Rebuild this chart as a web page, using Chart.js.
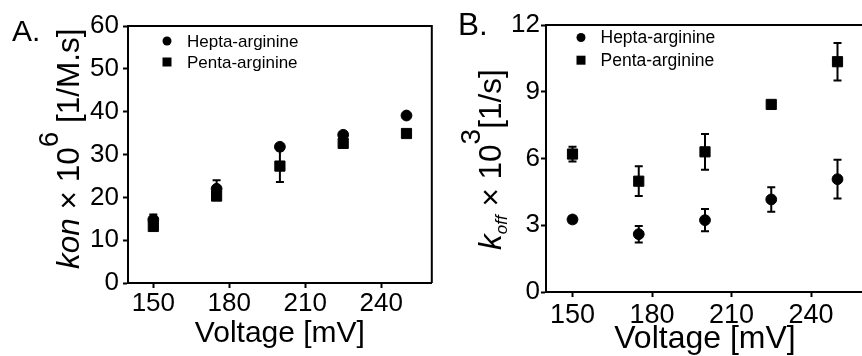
<!DOCTYPE html>
<html>
<head>
<meta charset="utf-8">
<script src="https://cdn.jsdelivr.net/npm/chart.js@4/dist/chart.umd.min.js"></script>
<style>
  html, body { margin:0; padding:0; background:#fff; overflow:hidden; }
  #wrap { position:relative; width:862px; height:356px; overflow:hidden; background:#fff; }
  canvas { position:absolute; top:0; }
  .lbl { position:absolute; font-family:"Liberation Sans", Arial, sans-serif; color:#000; white-space:nowrap; }
  .ytitle { position:absolute; font-family:"Liberation Sans", Arial, sans-serif; color:#000; white-space:nowrap;
            transform-origin:0 0; transform:rotate(-90deg); }
</style>
</head>
<body>
<div id="wrap">
  <canvas id="cA" width="440" height="356" style="left:0px;width:440px;height:356px"></canvas>
  <canvas id="cB" width="440" height="356" style="left:436px;width:440px;height:356px"></canvas>
  <div class="lbl" style="left:12px;top:16px;font-size:30px;line-height:30px">A.</div>
  <div class="lbl" style="left:458px;top:9px;font-size:31.5px;line-height:31.5px">B.</div>
  <div class="ytitle" style="left:53px;top:269px;font-size:31.5px;line-height:31.5px"><i>kon</i> × 10<span style="position:relative;top:-21px;font-size:28px">6</span> [1/M.s]</div>
  <div class="ytitle" style="left:475px;top:250px;font-size:31.5px;line-height:31.5px"><i>k</i><span style="position:relative;top:6px;font-size:17px;font-style:italic">off</span> × 10<span style="position:relative;top:-21px;font-size:28px">3</span>[1/s]</div>
</div>
<script>
// ---- data ----
const voltages = [150, 175, 200, 225, 250];
const xTicks = [150, 180, 210, 240];
const seriesNames = ['Hepta-arginine', 'Penta-arginine'];

const konHepta    = [14.8, 22.0, 31.8, 34.6, 39.1];
const konHeptaErr = [1.2, 2.0, 0.5, 0.5, 0.4];
const konPenta    = [13.2, 20.3, 27.3, 32.6, 34.9];
const konPentaErr = [0.8, 0.7, 3.7, 0.6, 0.4];
const konTicks    = [0, 10, 20, 30, 40, 50, 60];

const koffHepta    = [3.26, 2.6, 3.23, 4.16, 5.07];
const koffHeptaErr = [0.15, 0.37, 0.5, 0.55, 0.87];
const koffPenta    = [6.2, 4.98, 6.3, 8.43, 10.35];
const koffPentaErr = [0.33, 0.67, 0.8, 0.15, 0.84];
const koffTicks    = [0, 3, 6, 9, 12];

const FONT = '"Liberation Sans", Arial, sans-serif';
const INK = '#000';

const errorBars = {
  id: 'errorBars',
  beforeDatasetsDraw(chart) {
    const ctx = chart.ctx;
    const xs = chart.scales.x, ys = chart.scales.y;
    ctx.save();
    ctx.strokeStyle = INK;
    ctx.lineWidth = 2;
    chart.data.datasets.forEach(ds => {
      ds.data.forEach((p, i) => {
        const e = ds.errors[i];
        const px = xs.getPixelForValue(p.x);
        const y1 = ys.getPixelForValue(p.y - e);
        const y2 = ys.getPixelForValue(p.y + e);
        ctx.beginPath();
        ctx.moveTo(px, y1); ctx.lineTo(px, y2);
        ctx.moveTo(px - 4, y1); ctx.lineTo(px + 4, y1);
        ctx.moveTo(px - 4, y2); ctx.lineTo(px + 4, y2);
        ctx.stroke();
      });
    });
    ctx.restore();
  }
};

const frame = {
  id: 'frame',
  afterDraw(chart) {
    const {ctx, chartArea: a} = chart;
    ctx.save();
    ctx.strokeStyle = INK;
    ctx.lineWidth = 2;
    ctx.beginPath();
    ctx.moveTo(a.left, a.top); ctx.lineTo(a.right, a.top); ctx.lineTo(a.right, a.bottom);
    ctx.stroke();
    ctx.restore();
  }
};

const innerLegend = {
  id: 'innerLegend',
  afterDraw(chart, args, o) {
    const {ctx, chartArea: a} = chart;
    ctx.save();
    ctx.fillStyle = INK;
    ctx.font = o.size + 'px ' + FONT;
    ctx.textBaseline = 'middle';
    chart.data.datasets.forEach((ds, i) => {
      const cx = a.left + o.dx, cy = a.top + o.dy + i * o.gap;
      ctx.beginPath();
      if (ds.pointStyle === 'circle') ctx.arc(cx, cy, o.r, 0, Math.PI * 2);
      else ctx.rect(cx - o.r, cy - o.r, 2 * o.r, 2 * o.r);
      ctx.fill();
      ctx.fillText(ds.label, cx + o.tx, cy + 1);
    });
    ctx.restore();
  }
};

function makeChart(id, cfg) {
  const toPts = arr => arr.map((v, i) => ({x: voltages[i], y: v}));
  return new Chart(document.getElementById(id), {
    type: 'scatter',
    data: {
      datasets: [
        { label: seriesNames[0], data: toPts(cfg.hepta), errors: cfg.heptaErr,
          pointStyle: 'circle', pointRadius: 5.4, borderWidth: 1,
          backgroundColor: INK, borderColor: INK },
        { label: seriesNames[1], data: toPts(cfg.penta), errors: cfg.pentaErr,
          pointStyle: 'rect', pointRadius: 7.2, borderWidth: 1,
          backgroundColor: INK, borderColor: INK }
      ]
    },
    plugins: [errorBars, frame, innerLegend],
    options: {
      responsive: false,
      animation: false,
      events: [],
      layout: { padding: { left: 0, right: cfg.padRight, top: cfg.padTop, bottom: 0 } },
      plugins: {
        legend: { display: false },
        tooltip: { enabled: false },
        innerLegend: cfg.legend
      },
      scales: {
        x: {
          type: 'linear', min: 140, max: 260,
          afterBuildTicks: s => { s.ticks = xTicks.map(v => ({value: v})); },
          afterFit: s => { s.height = cfg.xHeight; },
          grid: { display: true, drawOnChartArea: false, drawTicks: true, tickLength: 5, tickWidth: 2, tickColor: INK },
          border: { display: true, color: INK, width: 2 },
          ticks: { color: INK, font: { family: FONT, size: cfg.xTickSize }, padding: cfg.xTickPad, maxRotation: 0, autoSkip: false },
          title: { display: true, text: 'Voltage [mV]', color: INK,
                   font: { family: FONT, size: cfg.titleSize, lineHeight: 1 },
                   padding: { top: 0, bottom: cfg.titlePad } }
        },
        y: {
          type: 'linear', min: cfg.yTicks[0], max: cfg.yTicks[cfg.yTicks.length - 1],
          afterBuildTicks: s => { s.ticks = cfg.yTicks.map(v => ({value: v})); },
          afterFit: s => { s.width = cfg.yWidth; },
          grid: { display: true, drawOnChartArea: false, drawTicks: true, tickLength: 5, tickWidth: 2, tickColor: INK },
          border: { display: true, color: INK, width: 2 },
          ticks: { color: INK, font: { family: FONT, size: cfg.yTickSize }, padding: cfg.yTickPad, autoSkip: false }
        }
      }
    }
  });
}

makeChart('cA', {
  hepta: konHepta, heptaErr: konHeptaErr, penta: konPenta, pentaErr: konPentaErr,
  yTicks: konTicks, padTop: 26, padRight: 8, yWidth: 128, xHeight: 73,
  xTickSize: 26, xTickPad: 0, yTickSize: 26, yTickPad: 4, titleSize: 30, titlePad: 7,
  legend: { dx: 39, dy: 15, gap: 21, tx: 20, r: 4.5, size: 17 }
});

makeChart('cB', {
  hepta: koffHepta, heptaErr: koffHeptaErr, penta: koffPenta, pentaErr: koffPentaErr,
  yTicks: koffTicks, padTop: 25, padRight: 12, yWidth: 110, xHeight: 64,
  xTickSize: 27, xTickPad: 2, yTickSize: 26, yTickPad: 1, titleSize: 32, titlePad: 0.5,
  legend: { dx: 35, dy: 12.5, gap: 22.7, tx: 19.5, r: 4.5, size: 17.5 }
});
</script>
</body>
</html>
